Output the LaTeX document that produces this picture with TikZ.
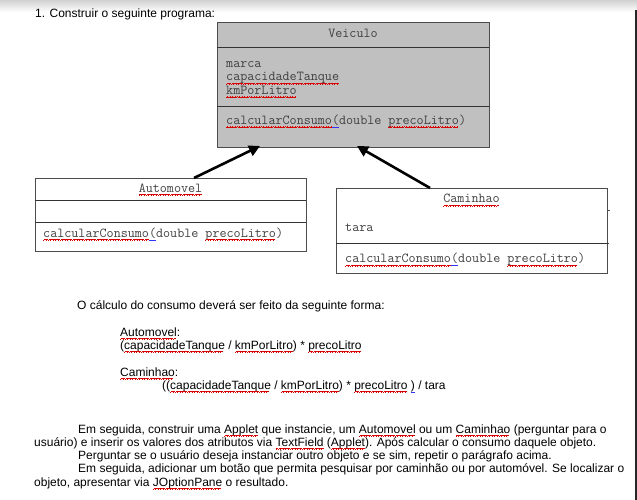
\documentclass[tikz,border=0pt]{standalone}
\usepackage{fontspec}
\setmainfont{Liberation Sans}
\usetikzlibrary{arrows.meta,calc}
\newcommand\spl[1]{\setbox0\hbox{#1}\hbox{\copy0\llap{\hbox to\wd0{\color{red!85!black}\leaders\hbox{\rule[-3.7pt]{0.6pt}{0.75pt}\rule[-3.2pt]{0.6pt}{0.75pt}\rule[-2.7pt]{0.6pt}{0.75pt}\rule[-3.2pt]{0.6pt}{0.75pt}}\hfill}}}}
\newcommand\gmk[1]{\setbox2\hbox{#1}\hbox{\copy2\llap{\color{blue!80!white}\rule[-3.4pt]{\wd2}{0.9pt}}}}
\definecolor{boxgray}{HTML}{C0C0C0}
\tikzset{
  cls/.style={draw=black!70, line width=0.8pt, inner sep=0pt, outer sep=0pt, rectangle},
  sepl/.style={draw=black!80, line width=1pt},
  mono/.style={font=\fontsize{13.7}{16}\selectfont\ttfamily, text=black!75, inner sep=0pt, anchor=base west},
  monoc/.style={mono, anchor=base},
  body/.style={font=\fontsize{12}{14}\selectfont, inner sep=0pt, anchor=base west},
  arr/.style={line width=2.6pt, -{Triangle[length=11pt,width=11pt]}}
}
\begin{document}
\begin{tikzpicture}[x=1pt,y=-1pt]
\useasboundingbox (0,0) rectangle (637,500);
\shade[top color=black!18, bottom color=white] (0,0) rectangle (637,12);
\fill[black!85] (634.5,10) rectangle (637,500);

\node[body] (title) at (35,17.5) {1. Construir o seguinte programa:};

% Veiculo
\node[cls, fill=boxgray, minimum width=272pt, minimum height=125pt] (veic) at (353,84.5) {};
\draw[sepl] ($(veic.north west)+(0,26)$) -- ($(veic.north east)+(0,26)$);
\draw[sepl] ($(veic.north west)+(0,85)$) -- ($(veic.north east)+(0,85)$);
\node[monoc] (vname) at (353,37.5) {Veiculo};
\node[mono] (va1) at (226,67.3) {marca};
\node[mono] (va2) at (226,81) {\spl{capacidadeTanque}};
\node[mono] (va3) at (226,94.5) {\spl{kmPorLitro}};
\node[mono] (vm1) at (226,124.3) {\spl{calcularConsumo}\gmk{(}double \spl{precoLitro})};

% Automovel
\node[cls, fill=white, minimum width=271pt, minimum height=73pt] (auto) at (170.5,214.5) {};
\draw[sepl] ($(auto.north west)+(0,22)$) -- ($(auto.north east)+(0,22)$);
\draw[sepl] ($(auto.north west)+(0,44)$) -- ($(auto.north east)+(0,44)$);
\node[monoc] (aname) at (170.5,192) {\spl{Automovel}};
\node[mono] (am1) at (43,237) {\spl{calcularConsumo}\gmk{(}double \spl{precoLitro})};

% Caminhao
\node[cls, fill=white, minimum width=271pt, minimum height=85pt] (cam) at (471.5,230.5) {};
\draw[sepl] ($(cam.north west)+(0,55)$) -- ($(cam.north east)+(2,55)$);
\draw[black!70, line width=0.8pt] ($(cam.north east)+(0,22)$) -- ($(cam.north east)+(2.5,22)$);
\node[monoc] (cname) at (471.5,202.7) {\spl{Caminhao}};
\node[mono] (ca1) at (345,231.7) {tara};
\node[mono] (cm1) at (345,262.7) {\spl{calcularConsumo}\gmk{(}double \spl{precoLitro})};

% inheritance arrows
\draw[arr] ($(auto.north west)+(159,0)$) -- ($(veic.south west)+(43,-1)$);
\draw[arr] ($(cam.north west)+(94,0)$) -- ($(veic.south west)+(140,-1)$);

% text
\node[body] (t1) at (77,309) {O cálculo do consumo deverá ser feito da seguinte forma:};
\node[body] (t2) at (120,336) {\spl{Automovel}:};
\node[body] (t3) at (120,349) {(\spl{capacidadeTanque} / \spl{kmPorLitro}) * \spl{precoLitro}};
\node[body] (t4) at (120,376) {\spl{Caminhao}:};
\node[body] (t5) at (162,389) {((\spl{capacidadeTanque} / \spl{kmPorLitro}) * \spl{precoLitro} \gmk{)} / tara};

\node[body] (p1) at (78,433) {Em seguida, construir uma \spl{Applet} que instancie, um \spl{Automovel} ou um \spl{Caminhao} (perguntar para o};
\node[body] (p2) at (34,446) {usuário) e inserir os valores dos atributos via \spl{TextField} (\spl{Applet}). Após calcular o consumo daquele objeto.};
\node[body] (p3) at (78,459) {Perguntar se o usuário deseja instanciar outro objeto e se sim, repetir o parágrafo acima.};
\node[body] (p4) at (78,472.5) {Em seguida, adicionar um botão que permita pesquisar por caminhão ou por automóvel. Se localizar o};
\node[body] (p5) at (34,486) {objeto, apresentar via \spl{JOptionPane} o resultado.};
\end{tikzpicture}
\end{document}
